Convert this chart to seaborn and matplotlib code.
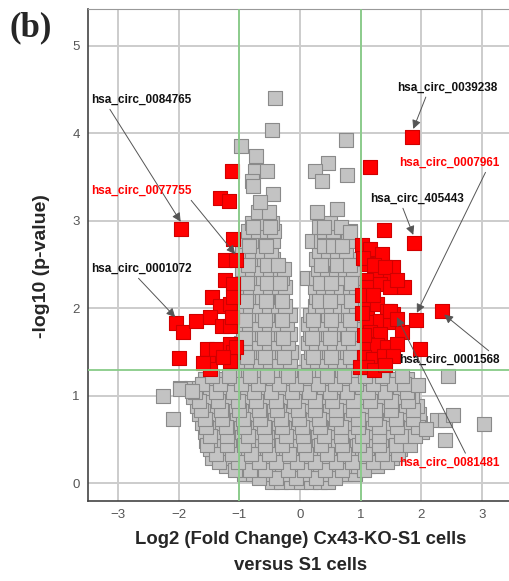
import matplotlib
matplotlib.use("Agg")
import matplotlib.pyplot as plt
import pandas as pd
import seaborn as sns

# ---------------- data ----------------
red_x = [-1.13, -1.32, -1.18, -1.97, -1.10, -1.24, -1.05, -1.24, -1.10,
         -1.46, -1.32, -1.16, -1.10,
         -2.04, -1.93, -1.71, -1.49, -1.29, -1.16, -1.13,
         -1.54, -1.38, -1.16, -1.10, -1.16, -1.99, -1.52, -1.49, -1.60, -1.05, -1.27,
         1.85, 1.16, 1.38, 1.88,
         1.02, 1.16, 1.35, 1.54, 1.71, 1.10, 1.10, 1.32, 1.49, 1.04, 1.22, 1.40,
         1.10, 1.32, 1.49, 1.60,
         1.10, 1.27, 1.43, 1.54, 1.10, 1.32, 1.49, 1.16, 1.32, 1.68,
         1.10, 1.27, 1.43, 1.60, 1.05, 1.21, 1.38, 1.54, 0.99, 1.10,
         1.98, 2.34, 1.91, 1.49, 1.60, 1.02, 1.20, 1.02, 1.05, 1.22, 1.40]
red_y = [3.57, 3.26, 3.23, 2.91, 2.79, 2.55, 2.55, 2.32, 2.28,
         2.13, 2.03, 2.05, 2.13,
         1.83, 1.73, 1.86, 1.90, 1.80, 1.80, 1.90,
         1.54, 1.54, 1.59, 1.50, 1.40, 1.43, 1.38, 1.31, 1.38, 1.56, 1.45,
         3.96, 3.62, 2.90, 2.75,
         2.72, 2.68, 2.62, 2.47, 2.24, 2.51, 2.32, 2.39, 2.32, 2.58, 2.50, 2.47,
         2.24, 2.28, 2.24, 2.32,
         2.01, 2.05, 1.97, 1.94, 1.84, 1.86, 1.84, 1.73, 1.71, 1.73,
         1.59, 1.58, 1.56, 1.59, 1.44, 1.42, 1.46, 1.46, 1.33, 1.33,
         1.54, 1.97, 1.87, 1.97, 1.88, 2.15, 2.15, 1.95, 1.70, 1.30, 1.35]

grey_row_y = [0.02, 0.11, 0.20, 0.29, 0.39, 0.49, 0.59, 0.69, 0.79, 0.89,
              0.99, 1.09, 1.19, 1.27,
              1.40, 1.50, 1.61, 1.71, 1.82, 1.92, 2.03, 2.13, 2.24, 2.35,
              2.45, 2.56, 2.66, 2.77, 2.88, 2.98, 3.10]
grey_row_x = [
    [-0.46, -0.31, -0.15, 0.01, 0.18, 0.33, 0.47],
    [-0.93, -0.78, -0.64, -0.47, -0.33, -0.17, -0.02, 0.13, 0.29, 0.44, 0.60, 0.75, 0.90],
    [-1.22, -1.05, -0.92, -0.75, -0.61, -0.43, -0.30, -0.12, 0.02, 0.19, 0.33, 0.51, 0.65,
     0.82, 0.96, 1.13, 1.27],
    [-1.46, -1.27, -1.11, -0.94, -0.80, -0.63, -0.48, -0.31, -0.17, 0.00, 0.14, 0.32, 0.45,
     0.63, 0.77, 0.95, 1.08, 1.26, 1.40, 1.52],
    [-1.49, -1.35, -1.17, -1.04, -0.86, -0.72, -0.54, -0.41, -0.23, -0.09, 0.09, 0.22, 0.40,
     0.54, 0.71, 0.85, 1.03, 1.16, 1.34, 1.48, 1.65],
    [-1.55, -1.40, -1.26, -1.08, -0.94, -0.77, -0.63, -0.45, -0.32, -0.14, 0.00, 0.18, 0.31,
     0.49, 0.63, 0.80, 0.94, 1.12, 1.26, 1.43, 1.57, 1.76],
    [-1.57, -1.44, -1.26, -1.12, -0.95, -0.81, -0.63, -0.50, -0.32, -0.18, -0.01, 0.15, 0.29,
     0.46, 0.60, 0.78, 0.91, 1.09, 1.23, 1.40, 1.54, 1.72, 1.86, 2.01],
    [-1.61, -1.47, -1.29, -1.16, -0.98, -0.84, -0.66, -0.53, -0.35, -0.21, -0.04, 0.12, 0.26,
     0.43, 0.57, 0.75, 0.89, 1.06, 1.20, 1.38, 1.51, 1.69, 1.83, 1.98],
    [-1.66, -1.49, -1.35, -1.18, -1.04, -0.86, -0.72, -0.55, -0.41, -0.23, -0.10, 0.08, 0.22,
     0.40, 0.53, 0.71, 0.85, 1.02, 1.16, 1.34, 1.48, 1.65, 1.79, 1.96],
    [-1.70, -1.55, -1.37, -1.23, -1.06, -0.92, -0.74, -0.61, -0.43, -0.29, -0.12, 0.04, 0.18,
     0.36, 0.49, 0.67, 0.81, 0.98, 1.12, 1.30, 1.44, 1.61, 1.75, 1.93],
    [-1.77, -1.63, -1.45, -1.31, -1.14, -1.00, -0.82, -0.69, -0.51, -0.37, -0.19, -0.06, 0.12,
     0.26, 0.43, 0.57, 0.75, 0.89, 1.06, 1.20, 1.38, 1.51, 1.69, 1.85],
    [-1.98, -1.80, -1.67, -1.49, -1.36, -1.18, -1.04, -0.87, -0.73, -0.55, -0.41, -0.24, -0.10,
     0.08, 0.21, 0.39, 0.53, 0.71, 0.84, 1.02, 1.16, 1.33, 1.47, 1.65, 1.79],
    [-1.57, -1.39, -1.25, -1.08, -0.94, -0.76, -0.62, -0.45, -0.31, -0.13, 0.02, 0.16, 0.34,
     0.48, 0.65, 0.79, 0.97, 1.11, 1.28, 1.42, 1.60, 1.76],
    [-1.02, -0.86, -0.70, -0.55, -0.38, -0.23, -0.08, 0.06, 0.22, 0.37, 0.53, 0.69, 0.84],
    [-0.97, -0.81, -0.66, -0.50, -0.34, -0.17, 0.14, 0.28, 0.43, 0.57, 0.72, 0.87],
    [-0.93, -0.77, -0.61, -0.46, -0.30, -0.15, 0.18, 0.33, 0.48, 0.62, 0.78, 0.93],
    [-0.98, -0.82, -0.67, -0.51, -0.36, -0.19, 0.13, 0.26, 0.41, 0.56, 0.71, 0.87],
    [-0.94, -0.78, -0.62, -0.47, -0.31, -0.16, 0.16, 0.30, 0.46, 0.61, 0.77, 0.92],
    [-0.99, -0.84, -0.68, -0.52, -0.37, -0.21, 0.14, 0.27, 0.42, 0.57, 0.73, 0.88],
    [-0.95, -0.79, -0.63, -0.48, -0.32, -0.16, 0.17, 0.32, 0.47, 0.63, 0.79, 0.94],
    [-0.98, -0.83, -0.67, -0.51, -0.36, -0.24, 0.24, 0.37, 0.52, 0.66, 0.80, 0.93],
    [-0.94, -0.78, -0.62, -0.46, -0.31, 0.27, 0.42, 0.56, 0.71, 0.85],
    [-0.97, -0.82, -0.66, -0.50, -0.35, -0.25, 0.25, 0.38, 0.53, 0.68, 0.82, 0.93],
    [-0.93, -0.77, -0.61, -0.46, -0.30, 0.11, 0.27, 0.43, 0.58, 0.73, 0.88],
    [-0.96, -0.80, -0.64, -0.49, -0.33, -0.26, 0.29, 0.44, 0.59, 0.74, 0.88],
    [-0.92, -0.76, -0.60, -0.45, 0.27, 0.41, 0.56, 0.71, 0.86],
    [-0.95, -0.79, -0.63, -0.48, 0.31, 0.46, 0.61, 0.76],
    [-0.90, -0.74, -0.58, -0.45, 0.19, 0.35, 0.50, 0.65, 0.80],
    [-0.86, -0.70, -0.54, -0.43, 0.39, 0.55, 0.83],
    [-0.80, -0.63, -0.47, 0.50],
    [-0.70, -0.52, 0.28],
]
# in-between rows that give the cloud its uneven, overlapping look
grey_fill_y = [0.06, 0.15, 0.25, 0.34, 0.44, 0.54, 0.64, 0.74, 0.84, 0.94,
               1.04, 1.14, 1.23, 1.45, 1.66, 1.87, 2.08, 2.29, 2.50, 2.71, 2.93]
grey_fill_x = [
    [-0.68, -0.40, -0.07, 0.26, 0.58],
    [-1.08, -0.83, -0.57, -0.20, 0.07, 0.42, 0.69, 1.06],
    [-1.33, -1.02, -0.68, -0.39, -0.05, 0.25, 0.60, 0.86, 1.21, 1.44],
    [-1.38, -1.13, -0.81, -0.52, -0.18, 0.10, 0.45, 0.73, 1.07, 1.36, 1.61],
    [-1.53, -1.20, -0.92, -0.57, -0.29, 0.06, 0.34, 0.69, 0.97, 1.31, 1.58, 1.81],
    [-1.48, -1.21, -0.86, -0.58, -0.23, 0.05, 0.40, 0.68, 1.03, 1.31, 1.66, 1.90],
    [-1.55, -1.22, -0.93, -0.59, -0.30, 0.04, 0.33, 0.67, 0.96, 1.31, 1.60, 1.94],
    [-1.57, -1.28, -0.94, -0.66, -0.31, -0.02, 0.32, 0.60, 0.95, 1.23, 1.58, 1.87],
    [-1.63, -1.30, -1.01, -0.67, -0.38, -0.04, 0.25, 0.59, 0.88, 1.23, 1.51, 1.87],
    [-1.66, -1.36, -1.02, -0.73, -0.39, -0.10, 0.24, 0.53, 0.87, 1.16, 1.50, 1.79],
    [-1.73, -1.39, -1.11, -0.76, -0.48, -0.13, 0.15, 0.50, 0.78, 1.13, 1.41, 1.76],
    [-1.61, -1.32, -0.97, -0.69, -0.34, -0.06, 0.29, 0.57, 0.92, 1.20, 1.55, 1.71],
    [-1.46, -1.17, -0.82, -0.54, -0.19, 0.09, 0.44, 0.72, 1.07, 1.35, 1.69],
    [-0.88, -0.57, -0.27, 0.21, 0.51, 0.82],
    [-0.90, -0.60, -0.28, 0.20, 0.49, 0.80],
    [-0.91, -0.58, -0.29, 0.22, 0.52, 0.83],
    [-0.89, -0.56, -0.30, 0.31, 0.50, 0.84],
    [-0.87, -0.55, -0.33, 0.33, 0.52, 0.85],
    [-0.86, -0.54, -0.37, 0.35, 0.61, 0.82],
    [-0.85, -0.56, 0.39, 0.54, 0.70],
    [-0.78, -0.50, 0.32, 0.68],
]
grey_extra_x = [-0.41, -0.47, -0.98, -0.73, -0.74, -0.55, -0.80, -0.77, -0.44, -0.66,
                0.76, 0.46, 0.25, 0.36, 0.78, 0.61, 0.39, 0.83,
                -2.26, -2.09, -1.98, -1.79, 2.45, 2.26, 2.40, 2.53, 2.40, 3.03, 2.08, 1.95]
grey_extra_y = [4.40, 4.04, 3.85, 3.74, 3.57, 3.57, 3.46, 3.40, 3.31, 3.21,
                3.92, 3.66, 3.57, 3.46, 3.52, 3.14, 2.93, 2.87,
                1.00, 0.74, 1.08, 1.06, 1.23, 0.72, 0.72, 0.78, 0.50, 0.68, 0.62, 1.12]

x_ticks = [-3, -2, -1, 0, 1, 2, 3]
y_ticks = [0, 1, 2, 3, 4, 5]
fc_cut = 1.0
p_cut = 1.301

label_names = ["hsa_circ_0084765", "hsa_circ_0077755", "hsa_circ_0001072",
               "hsa_circ_0039238", "hsa_circ_0007961", "hsa_circ_405443",
               "hsa_circ_0001568", "hsa_circ_0081481"]
label_target_x = [-1.97, -1.07, -2.06, 1.87, 1.93, 1.87, 2.38, 1.60]
label_target_y = [2.99, 2.62, 1.90, 4.05, 1.95, 2.84, 1.93, 1.90]
label_red = [False, True, False, False, True, False, False, True]

# ---------------- build table ----------------
rows = []
for yv, xs in zip(grey_row_y, grey_row_x):
    for xv in xs:
        rows.append((xv, yv, "ns"))
for yv, xs in zip(grey_fill_y, grey_fill_x):
    for xv in xs:
        rows.append((xv, yv, "ns"))
for xv, yv in zip(grey_extra_x, grey_extra_y):
    rows.append((xv, yv, "ns"))
for xv, yv in zip(red_x, red_y):
    rows.append((xv, yv, "sig"))
df = pd.DataFrame(rows, columns=["log2fc", "nlog10p", "status"])

# ---------------- figure ----------------
sns.set_style("white")
plt.rcParams["font.family"] = ["Liberation Sans", "DejaVu Sans"]
LABEL_FONT = ["Liberation Sans", "DejaVu Sans"]

fig = plt.figure(figsize=(5.10, 5.81), dpi=100)
ax = fig.add_axes([88 / 510, 1 - 501 / 581, 424 / 510, 492 / 581])

sns.scatterplot(data=df[df.status == "ns"], x="log2fc", y="nlog10p", ax=ax,
                marker="s", s=95, color="#c3c3c3", edgecolor="#8a8a8a",
                linewidth=0.8, zorder=2, legend=False)
sns.scatterplot(data=df[df.status == "sig"], x="log2fc", y="nlog10p", ax=ax,
                marker="s", s=95, color="#ff0000", edgecolor="#d00000",
                linewidth=0.8, zorder=3, legend=False)

ax.axvline(-fc_cut, color="#88cc88", lw=1.3, zorder=4)
ax.axvline(fc_cut, color="#88cc88", lw=1.3, zorder=4)
ax.axhline(p_cut, color="#88cc88", lw=1.3, zorder=4)

ax.set_xlim(-3.5, 3.5)
ax.set_ylim(-0.2, 5.42)
ax.set_xticks(x_ticks)
ax.set_yticks(y_ticks)
ax.set_xticklabels([str(t).replace("-", "\u2212") for t in x_ticks])
ax.grid(True, color="#cccccc", lw=1.4)
ax.set_axisbelow(True)
ax.tick_params(axis="both", length=0, labelsize=9.5, labelcolor="#555555", pad=6)
for side in ["left", "bottom"]:
    ax.spines[side].set_color("#444444")
    ax.spines[side].set_linewidth(1.2)
ax.spines["top"].set_color("#999999")
ax.spines["right"].set_visible(False)
ax.set_xlabel("")
ax.set_ylabel("")

# annotations
text_pos = [(-3.45, 4.38), (-3.45, 3.34), (-3.45, 2.45), (1.61, 4.52),
            (1.64, 3.66), (1.16, 3.25), (1.63, 1.41), (1.64, 0.24)]
rel = [(0.16, 0.1), (0.96, 0.1), (0.43, 0.1), (0.30, 0.1),
       (0.88, 0.1), (0.33, 0.1), (0.95, 0.9), (0.68, 0.9)]
for name, tx, ty, red, tp, rp in zip(label_names, label_target_x, label_target_y,
                                     label_red, text_pos, rel):
    ax.annotate(name, xy=(tx, ty), xytext=tp, textcoords="data",
                ha="left", va="center", fontsize=8.5, fontweight="bold",
                family=LABEL_FONT,
                color="#ff0000" if red else "#111111", zorder=6,
                arrowprops=dict(arrowstyle="-|>", color="#555555", lw=0.7,
                                mutation_scale=13, shrinkA=0, shrinkB=0,
                                relpos=rp))

fig.text(41 / 510, 1 - 266 / 581, "-log10 (p-value)", rotation=90,
         ha="center", va="center", fontsize=14, fontweight="bold", family=LABEL_FONT)
fig.text(301 / 510, 1 - 540 / 581, "Log2 (Fold Change) Cx43-KO-S1 cells",
         ha="center", va="center", fontsize=13.3, fontweight="bold", family=LABEL_FONT)
fig.text(301 / 510, 1 - 566 / 581, "versus S1 cells",
         ha="center", va="center", fontsize=13.3, fontweight="bold", family=LABEL_FONT)
fig.text(10 / 510, 1 - 28 / 581, "(b)", ha="left", va="center",
         fontsize=25, fontweight="bold", family=["Liberation Serif", "DejaVu Serif"])

fig.savefig("out.png", dpi=100)
